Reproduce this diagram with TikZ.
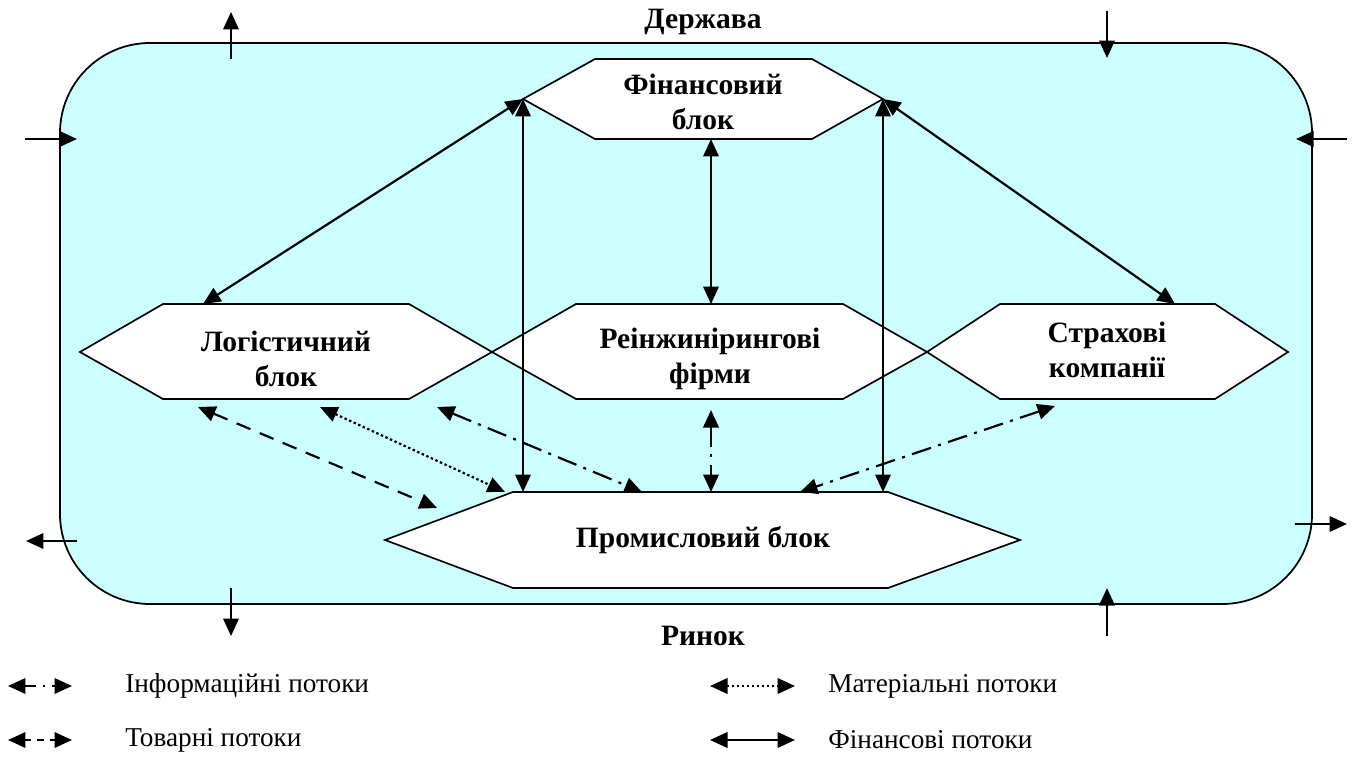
\documentclass[tikz,border=0pt]{standalone}
\usepackage{fontspec}
\setmainfont{Liberation Serif}
\usetikzlibrary{arrows.meta}
\definecolor{bgcyan}{HTML}{CCFFFF}
\begin{document}
\begin{tikzpicture}[x=0.02cm,y=-0.02cm,
  >={Triangle[length=0.35cm,width=0.31cm]},
  frame/.style={draw=black,fill=bgcyan,line width=1pt,rounded corners=1.8cm},
  hexa/.style={draw=black,fill=white,line width=0.95pt,line join=miter},
  lbl/.style={font=\fontsize{16.8}{20}\selectfont\bfseries,align=center,inner sep=0pt},
  leg/.style={font=\fontsize{15.5}{18}\selectfont,anchor=west,inner sep=0pt},
  flow/.style={line width=1.25pt},
  finflow/.style={flow},
  infoflow/.style={flow,dash pattern=on 0.4cm off 0.15cm on 0.06cm off 0.15cm},
  matflow/.style={flow,dash pattern=on 0.05cm off 0.05cm},
  goodsflow/.style={flow,dash pattern=on 0.3cm off 0.2cm},
  goodslegend/.style={flow,dash pattern=on 0.13cm off 0.12cm},
  infolegend/.style={flow,dash pattern=on 0.22cm off 0.14cm on 0.05cm off 0.14cm on 0.05cm off 0.3cm}
]
\useasboundingbox (0,0) rectangle (1354,760);

% frame
\draw[frame] (60,43) rectangle (1312,604);

% financial
\coordinate (finL) at (523,99);
\coordinate (finR) at (883,99);
\draw[hexa] (finL) -- (595,59) -- (812,59) -- (finR) -- (812,139) -- (595,139) -- cycle;
% logistic
\coordinate (logL) at (80,352);
\coordinate (logR) at (492,352);
\draw[hexa] (logL) -- (163,304) -- (409,304) -- (logR) -- (409,399) -- (163,399) -- cycle;
% reengineering
\coordinate (reiL) at (492,352);
\coordinate (reiR) at (927,352);
\draw[hexa] (reiL) -- (576,304) -- (843,304) -- (reiR) -- (843,399) -- (576,399) -- cycle;
% insurance
\coordinate (insL) at (927,352);
\coordinate (insR) at (1288,352);
\draw[hexa] (insL) -- (1000,304) -- (1215,304) -- (insR) -- (1215,399) -- (1000,399) -- cycle;
% industrial
\coordinate (indL) at (385,540);
\coordinate (indR) at (1020,540);
\draw[hexa] (indL) -- (513,492) -- (888,492) -- (indR) -- (888,588) -- (513,588) -- cycle;

% labels
\node[lbl] (state) at (703,22) {Держава};
\node[lbl] (market) at (703,636) {Ринок};
\node[lbl] (fin) at (703,102) {Фінансовий\\блок};
\node[lbl] (log) at (286,359) {Логістичний\\блок};
\node[lbl] (rei) at (710,359) {Реінжинірингові\\фірми};
\node[lbl] (ins) at (1107,350) {Страхові\\компанії};
\node[lbl] (ind) at (703,540) {Промисловий блок};

% connector end points
\coordinate (finB) at (711,139);
\coordinate (reiT) at (711,304);
\coordinate (logT) at (203,304);
\coordinate (insT) at (1175,304);
\coordinate (indTL) at (523,492);
\coordinate (indTR) at (883,492);
\coordinate (logB1) at (198,407);
\coordinate (indG) at (437,508);
\coordinate (logB2) at (320,407);
\coordinate (indM) at (505,492);
\coordinate (logB3) at (437,407);
\coordinate (indI1) at (642,492);
\coordinate (reiB) at (711,410);
\coordinate (indI2) at (711,492);
\coordinate (insB) at (1055,406);
\coordinate (indI3) at (800,492);

% financial flows
\draw[finflow,<->] (finL) -- (logT);
\draw[finflow,<->] (finR) -- (insT);
\draw[finflow,<->] (finB) -- (reiT);
\draw[finflow,<->] (finL) -- (indTL);
\draw[finflow,<->] (finR) -- (indTR);

% other flows
\draw[goodsflow,<->] (logB1) -- (indG);
\draw[matflow,<->] (logB2) -- (indM);
\draw[infoflow,<->] (logB3) -- (indI1);
\draw[infoflow,<->] (reiB) -- (indI2);
\draw[infoflow,<->] (insB) -- (indI3);

% outer arrows
\coordinate (a1s) at (231,59);  \coordinate (a1e) at (231,12);
\coordinate (a2s) at (1107,11); \coordinate (a2e) at (1107,58);
\coordinate (a3s) at (25,139);  \coordinate (a3e) at (77,139);
\coordinate (a4s) at (1347,139);\coordinate (a4e) at (1296,139);
\coordinate (a5s) at (77,541);  \coordinate (a5e) at (26,541);
\coordinate (a6s) at (231,588); \coordinate (a6e) at (231,636);
\coordinate (a7s) at (1107,636);\coordinate (a7e) at (1107,588);
\coordinate (a8s) at (1295,524);\coordinate (a8e) at (1347,524);
\foreach \i in {1,...,8} \draw[finflow,->] (a\i s) -- (a\i e);

% legend
\coordinate (l1a) at (8,686);   \coordinate (l1b) at (72,686);
\coordinate (l2a) at (8,740);   \coordinate (l2b) at (72,740);
\coordinate (l3a) at (710,686); \coordinate (l3b) at (795,686);
\coordinate (l4a) at (710,740); \coordinate (l4b) at (795,740);
\draw[infolegend,<->] (l1a) -- (l1b);
\draw[goodslegend,<->] (l2a) -- (l2b);
\draw[matflow,<->] (l3a) -- (l3b);
\draw[finflow,<->] (l4a) -- (l4b);
\node[leg] (t1) at (125,686) {Інформаційні потоки};
\node[leg] (t2) at (125,740) {Товарні потоки};
\node[leg] (t3) at (828,686) {Матеріальні потоки};
\node[leg] (t4) at (828,740) {Фінансові потоки};
\end{tikzpicture}
\end{document}
